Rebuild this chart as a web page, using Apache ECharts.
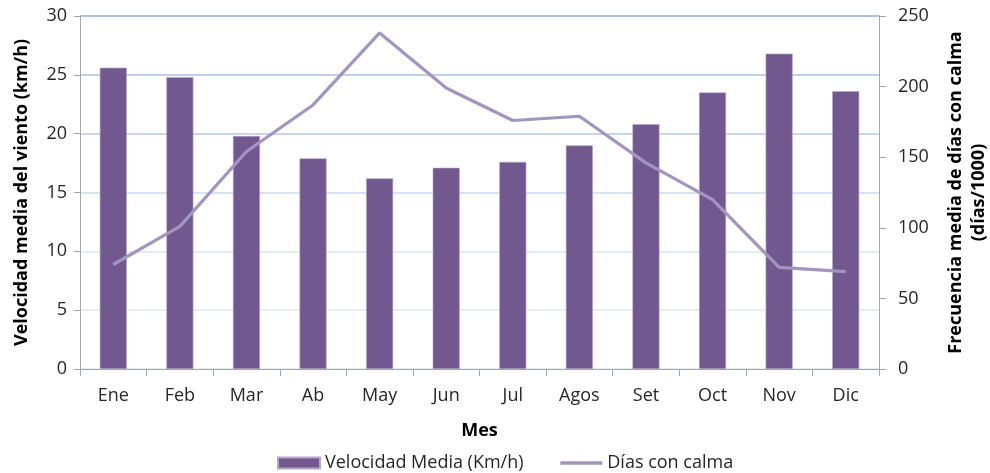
<!DOCTYPE html>
<html>
<head>
<meta charset="utf-8">
<script src="https://cdn.jsdelivr.net/npm/echarts@6/dist/echarts.min.js"></script>
<style>
  html, body { margin: 0; padding: 0; background: #fff; }
  #chart { width: 990px; height: 473px; }
</style>
</head>
<body>
<div id="chart"></div>
<script>
// Monthly wind data
const meses = ['Ene', 'Feb', 'Mar', 'Ab', 'May', 'Jun', 'Jul', 'Agos', 'Set', 'Oct', 'Nov', 'Dic'];
const velocidadMedia = [25.6, 24.8, 19.8, 17.9, 16.2, 17.1, 17.6, 19.0, 20.8, 23.5, 26.8, 23.6];
const diasCalma = [74, 101, 154, 187, 238, 199, 176, 179, 146, 120, 72, 69];

const FONT = '"Open Sans", Lato, sans-serif';
const axisGray = '#a6a6a6';
const lineColor = '#a395bf';

const chart = echarts.init(document.getElementById('chart'), null, { renderer: 'canvas' });
chart.setOption({
  animation: false,
  backgroundColor: '#ffffff',
  textStyle: { fontFamily: FONT, color: '#262626' },
  grid: { left: 80, right: 111, top: 16, bottom: 104, containLabel: false, outerBoundsMode: 'none' },
  legend: {
    top: 449,
    left: 272,
    padding: 5,
    itemGap: 35,
    itemWidth: 42,
    itemHeight: 11,
    textStyle: { fontFamily: FONT, fontSize: 18, color: '#262626' },
    data: [
      { name: 'Velocidad Media (Km/h)', icon: 'rect' },
      {
        name: 'Días con calma',
        itemStyle: { color: 'rgba(0,0,0,0)', borderWidth: 0 },
        lineStyle: { color: lineColor, width: 3.5 }
      }
    ]
  },
  xAxis: {
    type: 'category',
    data: meses,
    boundaryGap: true,
    name: 'Mes',
    nameLocation: 'middle',
    nameGap: 53,
    nameTextStyle: { fontFamily: FONT, fontSize: 18, fontWeight: 'bold', color: '#000' },
    axisLine: { lineStyle: { color: axisGray, width: 1 } },
    axisTick: { show: true, length: 7, alignWithLabel: false, lineStyle: { color: axisGray } },
    axisLabel: { fontFamily: FONT, fontSize: 18, color: '#262626', margin: 18 }
  },
  yAxis: [
    {
      type: 'value',
      min: 0, max: 30, interval: 5,
      name: 'Velocidad media del viento (km/h)',
      nameLocation: 'middle',
      nameRotate: 90,
      nameGap: 49,
      nameTextStyle: { fontFamily: FONT, fontSize: 18, fontWeight: 'bold', color: '#000' },
      axisLine: { show: true, lineStyle: { color: axisGray } },
      axisTick: { show: true, length: 6, lineStyle: { color: axisGray } },
      axisLabel: { fontFamily: FONT, fontSize: 18, color: '#262626', margin: 13 },
      splitLine: {
        show: true,
        lineStyle: {
          width: 1.5,
          color: ['#dde7f3', '#dde7f3', '#dae4f2', '#cbdaee', '#b3c8e8', '#a9c1e6', '#8eaddc']
        }
      }
    },
    {
      type: 'value',
      min: 0, max: 250, interval: 50,
      name: 'Frecuencia media de días con calma\n(días/1000)',
      nameLocation: 'middle',
      nameRotate: 90,
      nameGap: 65,
      nameTextStyle: { fontFamily: FONT, fontSize: 18, fontWeight: 'bold', color: '#000', lineHeight: 23 },
      axisLine: { show: true, lineStyle: { color: axisGray } },
      axisTick: { show: true, length: 7, lineStyle: { color: axisGray } },
      axisLabel: { fontFamily: FONT, fontSize: 18, color: '#262626', margin: 19 },
      splitLine: { show: false }
    }
  ],
  series: [
    {
      name: 'Velocidad Media (Km/h)',
      type: 'bar',
      yAxisIndex: 0,
      data: velocidadMedia,
      barWidth: 27,
      itemStyle: { color: '#71588f', borderColor: '#b3a6c8', borderWidth: 0.6 }
    },
    {
      name: 'Días con calma',
      type: 'line',
      yAxisIndex: 1,
      data: diasCalma,
      symbol: 'none',
      lineStyle: { color: lineColor, width: 3.2 },
      itemStyle: { color: lineColor }
    }
  ]
});
</script>
</body>
</html>
